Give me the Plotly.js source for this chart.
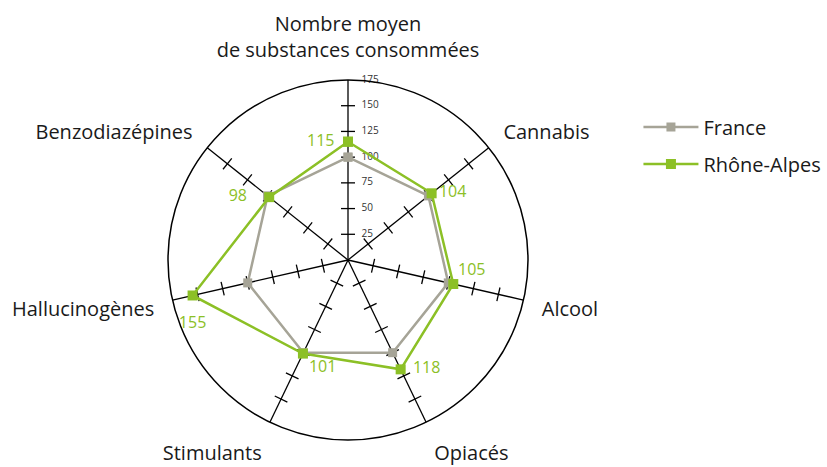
<!DOCTYPE html>
<html><head><meta charset="utf-8">
<script src="https://cdn.plot.ly/plotly-3.0.1.min.js"></script>
<style>html,body{margin:0;padding:0;background:#fff}#chart{width:827px;height:467px}</style>
</head><body><div id="chart"></div>
<script>
const categories = ["Nombre moyen<br>de substances consommées","Cannabis","Alcool","Opiacés","Stimulants","Hallucinogènes","Benzodiazépines"];
const france = [100,100,100,100,100,100,100];
const rhoneAlpes = [115,104,105,118,101,155,98];
const radialTicks = [25,50,75,100,125,150,175];

// label placement (style only)
const labelPositions = ["middle left","middle right","top right","middle right","bottom right","bottom center","middle left"];
const labelPads = [20,10,6,18,8,32,34];

const GRAY = "#a6a497", GREEN = "#8cc026";
const FONT = "Open Sans";

const close = a => a.concat([a[0]]);

// spoke tick crosses
const tTheta = [], tR = [], tAng = [];
categories.forEach((c, i) => {
  radialTicks.slice(0, -1).forEach(v => { tTheta.push(c); tR.push(v); tAng.push(i * 360 / categories.length); });
});

const traces = [
  {type:"scatterpolar", mode:"markers", theta:tTheta, r:tR, showlegend:false, hoverinfo:"skip",
   marker:{symbol:"line-ew", size:10, angle:tAng, color:"#000", line:{color:"#000", width:1.3}}},
  {type:"scatterpolar", mode:"markers+text", theta:radialTicks.map(()=>categories[0]), r:radialTicks,
   text:radialTicks.map(String), textposition:"middle right", showlegend:false, hoverinfo:"skip",
   marker:{size:20, opacity:0}, cliponaxis:false,
   textfont:{family:FONT, size:10, color:"#333"}},
  {type:"scatterpolar", mode:"lines+markers", name:"France", legendgroup:"a",
   theta:close(categories), r:close(france),
   line:{color:GRAY, width:2.5}, marker:{symbol:"square", size:9, color:GRAY}},
  {type:"scatterpolar", mode:"lines+markers", name:"Rhône-Alpes", legendgroup:"b",
   theta:close(categories), r:close(rhoneAlpes),
   line:{color:GREEN, width:2.5}, marker:{symbol:"square", size:10, color:GREEN}},
  {type:"scatterpolar", mode:"markers+text", theta:categories, r:rhoneAlpes, text:rhoneAlpes.map(String),
   textposition:labelPositions, showlegend:false, hoverinfo:"skip", cliponaxis:false,
   marker:{size:labelPads, opacity:0},
   textfont:{family:FONT, size:16, color:GREEN}}
];

const layout = {
  width:827, height:467, margin:{l:0,r:0,t:0,b:0},
  paper_bgcolor:"#fff", plot_bgcolor:"#fff",
  font:{family:FONT, color:"#1a1a1a"},
  showlegend:true,
  legend:{x:0.772, y:0.77, xanchor:"left", yanchor:"top", font:{family:FONT, size:20, color:"#1a1a1a"},
          tracegroupgap:8, traceorder:"grouped", itemwidth:55, bgcolor:"rgba(0,0,0,0)"},
  polar:{
    domain:{x:[168/827, 528/827], y:[27/467, 387/467]},
    bgcolor:"#fff",
    radialaxis:{range:[0,175], showline:false, showgrid:false, ticks:"", showticklabels:false, angle:90},
    angularaxis:{rotation:90, direction:"clockwise", showgrid:true, gridcolor:"#000", gridwidth:1.3,
                 showline:true, linecolor:"#000", linewidth:1.5, ticks:"outside", ticklen:14,
                 tickcolor:"rgba(0,0,0,0)",
                 tickfont:{family:FONT, size:20, color:"#1a1a1a"}}
  }
};
Plotly.newPlot("chart", traces, layout, {displayModeBar:false, staticPlot:true});
</script></body></html>
